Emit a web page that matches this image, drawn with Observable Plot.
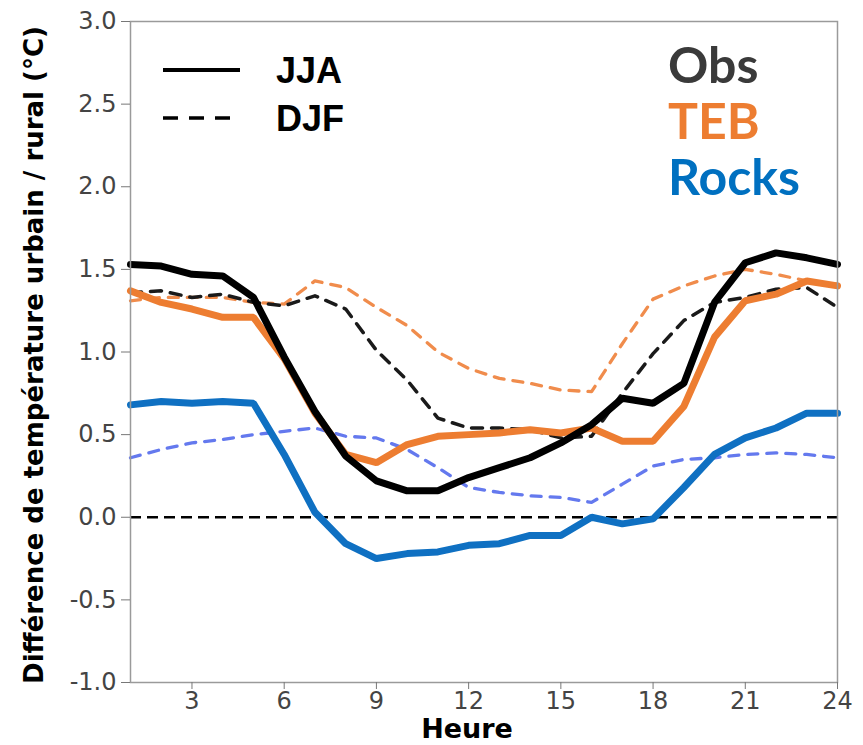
<!DOCTYPE html>
<html><head><meta charset="utf-8">
<script src="https://cdn.jsdelivr.net/npm/d3@7"></script>
<script src="https://cdn.jsdelivr.net/npm/@observablehq/plot@0.6"></script>
<style>
body{margin:0;background:#fff}
#wrap{position:relative;width:863px;height:745px}
#overlay{position:absolute;left:0;top:0;pointer-events:none}
</style></head><body><div id="wrap"></div>
<script>
const hours = [1,2,3,4,5,6,7,8,9,10,11,12,13,14,15,16,17,18,19,20,21,22,23,24];
const obsJJA   = [1.53,1.52,1.47,1.46,1.33,0.97,0.64,0.37,0.22,0.16,0.16,0.24,0.30,0.36,0.45,0.56,0.72,0.69,0.81,1.30,1.54,1.60,1.57,1.53];
const tebJJA   = [1.37,1.30,1.26,1.21,1.21,0.96,0.63,0.38,0.33,0.44,0.49,0.50,0.51,0.53,0.51,0.54,0.46,0.46,0.67,1.09,1.31,1.35,1.43,1.40];
const rocksJJA = [0.68,0.70,0.69,0.70,0.69,0.38,0.03,-0.16,-0.25,-0.22,-0.21,-0.17,-0.16,-0.11,-0.11,0.00,-0.04,-0.01,0.18,0.38,0.48,0.54,0.63,0.63];
const obsDJF   = [1.36,1.37,1.33,1.35,1.30,1.28,1.34,1.26,1.01,0.83,0.60,0.54,0.54,0.53,0.48,0.49,0.75,0.99,1.19,1.30,1.33,1.38,1.39,1.27];
const tebDJF   = [1.31,1.33,1.33,1.33,1.30,1.29,1.43,1.39,1.27,1.16,1.00,0.90,0.84,0.81,0.77,0.76,1.05,1.32,1.40,1.46,1.50,1.47,1.43,1.41];
const rocksDJF = [0.36,0.41,0.45,0.47,0.50,0.52,0.54,0.49,0.48,0.41,0.30,0.18,0.15,0.13,0.12,0.09,0.20,0.31,0.35,0.36,0.38,0.39,0.38,0.36];
const xTicks = [3,6,9,12,15,18,21,24];
const yTicks = [-1.0,-0.5,0.0,0.5,1.0,1.5,2.0,2.5,3.0];
const models = ["Obs","TEB","Rocks"];
const seasons = ["JJA","DJF"];
const xLabel = "Heure";
const yLabel = "Différence de température urbain / rural (°C)";

const colSolid = {Obs:"#000000", TEB:"#ed7d31", Rocks:"#0f70c2"};
const colDash = {Obs:"#1a1a1a", TEB:"#f08c4c", Rocks:"#6479ee"};
const textCol = {Obs:"#3a3a3a", TEB:"#ed7d31", Rocks:"#0070c0"};

const series = {
  "Obs|JJA": obsJJA, "TEB|JJA": tebJJA, "Rocks|JJA": rocksJJA,
  "Obs|DJF": obsDJF, "TEB|DJF": tebDJF, "Rocks|DJF": rocksDJF
};
const rows = [];
for (const [k, vals] of Object.entries(series)) {
  const [model, season] = k.split("|");
  vals.forEach((v, i) => rows.push({model, season, hour: hours[i], value: v}));
}
const sel = (m, s) => rows.filter(d => d.model === m && d.season === s);

const marks = [
  Plot.ruleY([0], {stroke:"#000", strokeWidth:2.5, strokeDasharray:"11,6"})
];
for (const m of ["Rocks","TEB","Obs"]) {
  marks.push(Plot.line(sel(m,"DJF"), {x:"hour", y:"value", stroke: colDash[m],
    strokeWidth: m === "Obs" ? 3.5 : 3.3, strokeDasharray: m === "Obs" ? "11,9" : "10,9"}));
}
for (const m of ["Rocks","TEB","Obs"]) {
  marks.push(Plot.line(sel(m,"JJA"), {x:"hour", y:"value", stroke: colSolid[m],
    strokeWidth: 7, strokeLinejoin:"miter"}));
}
marks.push(
  Plot.frame({stroke:"#9a9a9a", strokeWidth:1.5}),
  Plot.axisX({ticks: xTicks, tickSize:7, tickPadding:2, stroke:"#777", fill:"#444", fontSize:24, label:null}),
  Plot.axisY({ticks: yTicks, tickSize:9, tickPadding:5, stroke:"#777", fill:"#444", fontSize:24,
    tickFormat: d => d.toFixed(1), label:null}),
  Plot.text([xLabel], {frameAnchor:"bottom", lineAnchor:"middle", textAnchor:"middle", dx:-17, dy:47, fontSize:27, fontWeight:"bold", fill:"#000"}),
  Plot.text([yLabel], {frameAnchor:"left", lineAnchor:"middle", textAnchor:"middle", rotate:-90, dx:-96, dy:3, fontSize:26, fontWeight:"bold", fill:"#000"})
);

const chart = Plot.plot({
  width: 863, height: 745,
  marginLeft: 130, marginRight: 26, marginTop: 21, marginBottom: 63,
  style: {fontFamily: "'DejaVu Sans', sans-serif", fontSize: "24px", background: "#fff"},
  x: {domain: [1, 24]},
  y: {domain: [-1, 3]},
  marks
});
const wrap = document.getElementById("wrap");
wrap.appendChild(chart);

// legend overlay
const ov = d3.select(wrap).append("svg").attr("id","overlay").attr("width",863).attr("height",745);
ov.append("line").attr("x1",163).attr("x2",240).attr("y1",70).attr("y2",70)
  .attr("stroke","#000").attr("stroke-width",4);
ov.append("line").attr("x1",163).attr("x2",232).attr("y1",118).attr("y2",118)
  .attr("stroke","#000").attr("stroke-width",3.5).attr("stroke-dasharray","15,11");
seasons.forEach((s, i) => {
  ov.append("text").attr("x",276).attr("y",83 + i*48).text(s)
    .attr("font-family","'Liberation Sans', Arial, sans-serif").attr("font-weight","bold")
    .attr("font-size",36).attr("fill","#000");
});
models.forEach((m, i) => {
  ov.append("text").attr("x",668).attr("y",83 + i*56).text(m)
    .attr("font-family","Lato, sans-serif").attr("font-weight","bold")
    .attr("font-size",50).attr("fill",textCol[m]);
});
</script></body></html>
